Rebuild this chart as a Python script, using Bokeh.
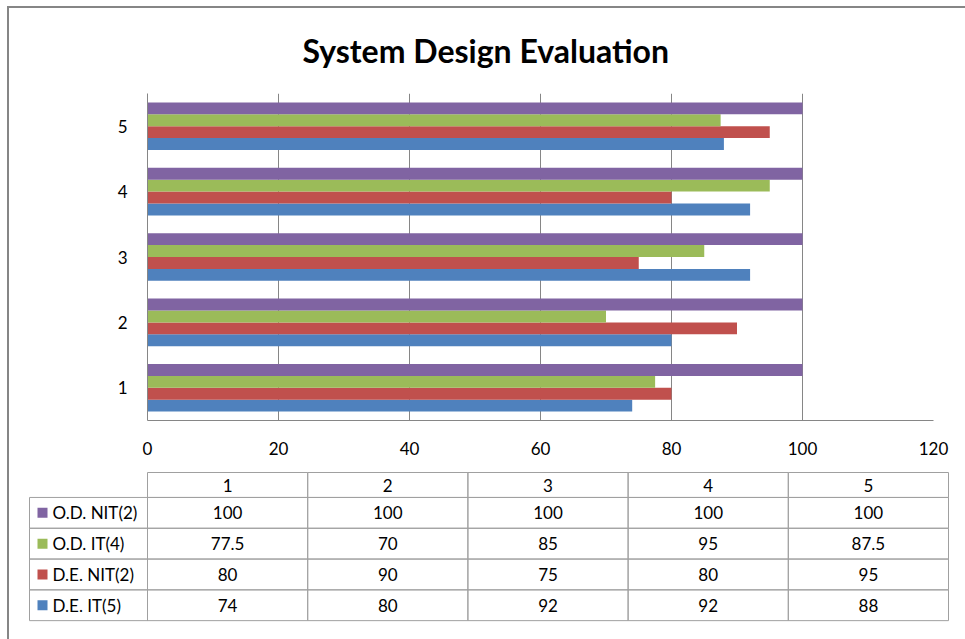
from bokeh.plotting import figure
from bokeh.models import Range1d, FactorRange, ColumnDataSource
from bokeh.transform import dodge
from bokeh.layouts import column
from bokeh.embed import file_html
from bokeh.resources import INLINE
from bokeh.core.properties import value

# ---------------- data ----------------
title_text = "System Design Evaluation"
categories = ["1", "2", "3", "4", "5"]
series_names = ["D.E. IT(5)", "D.E. NIT(2)", "O.D. IT(4)", "O.D. NIT(2)"]
de_it = [74, 80, 92, 92, 88]
de_nit = [80, 90, 75, 80, 95]
od_it = [77.5, 70, 85, 95, 87.5]
od_nit = [100, 100, 100, 100, 100]
colors = ["#4F81BD", "#C0504D", "#9BBB59", "#8064A2"]
x_ticks = [0, 20, 40, 60, 80, 100, 120]

series_values = [de_it, de_nit, od_it, od_nit]
FONT = "Lato"
FS = "17px"
GRID = "#868686"
TABLE_LINE = "#a0a0a0"

# ---------------- main chart ----------------
p = figure(width=956, height=462, y_range=FactorRange(*categories),
           x_range=Range1d(0, 120), output_backend="svg", toolbar_location=None,
           min_border_left=138, min_border_right=32, min_border_top=82,
           min_border_bottom=50)
p.frame_align = False
p.outline_line_color = None
p.background_fill_color = "white"
p.border_fill_color = "white"

data = {"cat": categories}
keys = ["s0", "s1", "s2", "s3"]
for k, v in zip(keys, series_values):
    data[k] = v
src = ColumnDataSource(data)

n = len(series_names)
bar_h = 1 / 5.5
for i, (k, c) in enumerate(zip(keys, colors)):
    off = (i - (n - 1) / 2) * bar_h
    p.hbar(y=dodge("cat", off, range=p.y_range), left=0, right=k, height=bar_h,
           fill_color=c, line_color=None, source=src)

p.xaxis.ticker = x_ticks
for ax in (p.xaxis, p.yaxis):
    ax.axis_line_color = GRID
    ax.axis_line_width = 1
    ax.major_tick_line_color = None
    ax.minor_tick_line_color = None
    ax.major_label_text_font = FONT
    ax.major_label_text_font_size = FS
    ax.major_label_text_color = "#000000"
p.xaxis.major_label_standoff = 15
p.yaxis.major_label_standoff = 14
p.xgrid.grid_line_color = GRID
p.xgrid.grid_line_width = 1
p.ygrid.grid_line_color = None

# title
p.title.text = title_text
p.title.text_font = FONT
p.title.text_font_style = "bold"
p.title.text_font_size = "32px"
p.title.text_color = "#000000"
p.title.align = "left"
p.title.offset = 155
p.title.vertical_align = "top"
p.title.standoff = 44

# ---------------- data table ----------------
col_w = 160.2
row_h = 30.8
t = figure(width=956, height=169,
           x_range=Range1d(-138 / col_w, (956 - 138) / col_w),
           y_range=Range1d(-0.375 + 169 / row_h, -0.375),
           output_backend="svg", toolbar_location=None, min_border=0,
           x_axis_location=None, y_axis_location=None)
t.frame_align = False
t.grid.visible = False
t.outline_line_color = None
t.background_fill_color = "white"
t.border_fill_color = "white"

header_top = -0.31
leg_left = -118 / col_w
ncol = len(categories)
rows_names = series_names[::-1]
rows_vals = series_values[::-1]
rows_cols = colors[::-1]

# header cells
t.quad(left=list(range(ncol)), right=list(range(1, ncol + 1)),
       top=[header_top] * ncol, bottom=[0.5] * ncol,
       fill_color=None, line_color=TABLE_LINE, line_width=1)
t.text(x=[c + 0.5 for c in range(ncol)], y=[0.1] * ncol, text=categories,
       text_font=value(FONT), text_font_size=FS, text_align="center",
       text_baseline="middle", text_color="#000000")

# data cells
cl, cr, ct, cb, tx, ty, tt = [], [], [], [], [], [], []
for r, vals in enumerate(rows_vals, start=1):
    for c, v in enumerate(vals):
        cl.append(c); cr.append(c + 1); ct.append(r - 0.5); cb.append(r + 0.5)
        tx.append(c + 0.5); ty.append(r); tt.append(f"{v:g}")
t.quad(left=cl, right=cr, top=ct, bottom=cb, fill_color=None,
       line_color=TABLE_LINE, line_width=1)
t.text(x=tx, y=ty, text=tt, text_font=value(FONT), text_font_size=FS,
       text_align="center", text_baseline="middle", text_color="#000000")

# legend column
rr = list(range(1, len(rows_names) + 1))
t.quad(left=[leg_left] * len(rr), right=[0] * len(rr),
       top=[r - 0.5 for r in rr], bottom=[r + 0.5 for r in rr],
       fill_color=None, line_color=TABLE_LINE, line_width=1)
t.scatter(x=[leg_left + 13 / col_w] * len(rr), y=rr, marker="square", size=10,
          fill_color=rows_cols, line_color=None)
t.text(x=[leg_left + 23 / col_w] * len(rr), y=rr, text=rows_names,
       text_font=value(FONT), text_font_size=FS, text_align="left",
       text_baseline="middle", text_color="#000000")

layout = column(p, t, styles={"border-top": "2px solid #868686",
                              "border-left": "2px solid #868686",
                              "margin-left": "7px", "margin-top": "6px",
                              "background-color": "white"})

open("out.html", "w").write(file_html(layout, INLINE))
